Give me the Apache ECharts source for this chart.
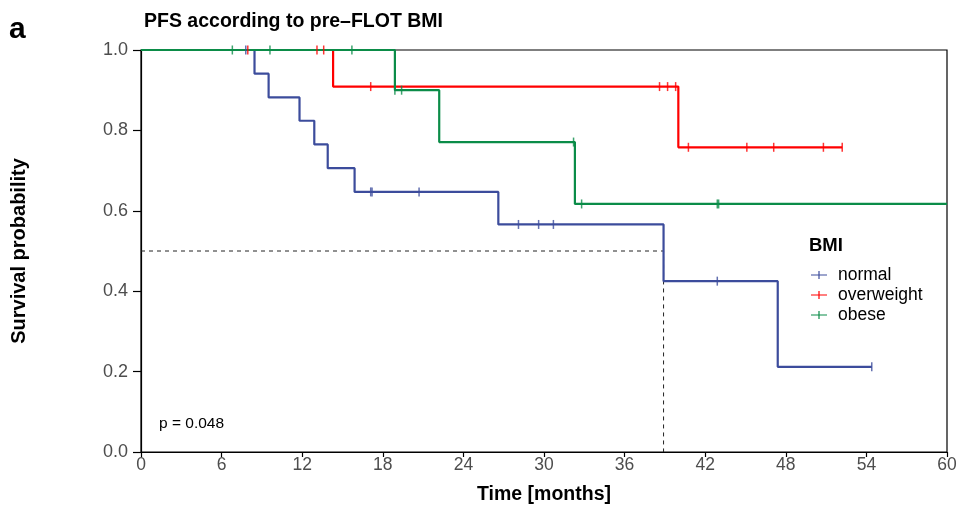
<!DOCTYPE html>
<html lang="en">
<head>
    <meta charset="UTF-8">
    <title>PFS according to pre-FLOT BMI</title>
    <script src="https://cdn.jsdelivr.net/npm/echarts@6/dist/echarts.min.js"></script>
    <style>
        html, body { margin: 0; padding: 0; background: #fff; }
        #main { width: 965px; height: 505px; }
    </style>
</head>
<body>
<div id="main"></div>
<script type="text/javascript">
    // Kaplan-Meier steps (time in months, survival)
    var normalTime = [0, 8.45, 9.5, 11.8, 12.9, 13.9, 15.9, 26.6, 38.9, 47.4, 54.4];
    var normalSurv = [1, 0.941, 0.882, 0.824, 0.765, 0.706, 0.647, 0.566, 0.425, 0.212, 0.212];
    var normalCensT = [7.8, 17.1, 17.2, 20.7, 28.1, 29.6, 30.7, 42.9, 54.4];
    var normalCensS = [1, 0.647, 0.647, 0.647, 0.566, 0.566, 0.566, 0.425, 0.212];

    var overTime = [0, 14.3, 40.0, 52.2];
    var overSurv = [1, 0.909, 0.758, 0.758];
    var overCensT = [7.95, 13.1, 13.6, 17.1, 38.6, 39.2, 39.8, 40.75, 45.1, 47.1, 50.8, 52.2];
    var overCensS = [1, 1, 1, 0.909, 0.909, 0.909, 0.909, 0.758, 0.758, 0.758, 0.758, 0.758];

    var obeseTime = [0, 18.9, 22.2, 32.3, 60];
    var obeseSurv = [1, 0.900, 0.771, 0.617, 0.617];
    var obeseCensT = [6.8, 9.6, 15.7, 18.9, 19.4, 32.2, 32.8, 42.9, 43.0];
    var obeseCensS = [1, 1, 1, 0.900, 0.900, 0.771, 0.617, 0.617, 0.617];

    var medianTime = 38.9;
    var xTicks = [0, 6, 12, 18, 24, 30, 36, 42, 48, 54, 60];

    var groups = ['normal', 'overweight', 'obese'];
    var colors = ['#3C4C9C', '#FF0000', '#0B8C48'];

    function pairs(xs, ys) {
        var out = [];
        for (var i = 0; i < xs.length; i++) {
            out.push([xs[i], ys[i]]);
        }
        return out;
    }

    // legend icon: a short line with a censor tick in the middle
    var plus = 'path://M0,3.4 L16,3.4 L16,4.6 L0,4.6 Z M7.4,0 L8.6,0 L8.6,8 L7.4,8 Z';
    var font = 'Liberation Sans, Arial, Helvetica, sans-serif';

    var curves = [
        pairs(normalTime, normalSurv),
        pairs(overTime, overSurv),
        pairs(obeseTime, obeseSurv)
    ];
    var censors = [
        pairs(normalCensT, normalCensS),
        pairs(overCensT, overCensS),
        pairs(obeseCensT, obeseCensS)
    ];

    var series = [];
    // median guide
    series.push({
        name: 'median',
        type: 'line',
        data: [[0, 0.5], [medianTime, 0.5], [medianTime, 0]],
        symbol: 'none',
        silent: true,
        lineStyle: { color: '#222', width: 1, type: [4, 4] },
        z: 1
    });
    for (var g = 0; g < groups.length; g++) {
        series.push({
            name: groups[g],
            type: 'line',
            step: 'end',
            data: curves[g],
            symbol: 'none',
            lineStyle: { color: colors[g], width: 2.2 },
            itemStyle: { color: colors[g] },
            z: 3
        });
        series.push({
            name: groups[g] + ' censored',
            type: 'scatter',
            data: censors[g],
            symbol: 'rect',
            symbolSize: [1.5, 9],
            itemStyle: { color: colors[g] },
            z: 4
        });
    }

    var myChart = echarts.init(document.getElementById('main'));

    var option = {
        animation: false,
        backgroundColor: '#fff',
        title: {
            text: 'PFS according to pre\u2013FLOT BMI',
            left: 139,
            top: 7,
            textStyle: { fontFamily: font, fontSize: 19.5, fontWeight: 'bold', color: '#000' }
        },
        grid: {
            left: 141, right: 18, top: 50, bottom: 53,
            outerBoundsMode: 'none',
            containLabel: false,
            show: true, borderColor: '#000', borderWidth: 1.2, backgroundColor: '#fff'
        },
        legend: {
            data: groups.map(function (n) { return { name: n, icon: plus }; }),
            orient: 'vertical',
            left: 811,
            top: 265,
            padding: 0,
            itemWidth: 16,
            itemHeight: 8,
            itemGap: 0,
            selectedMode: false,
            textStyle: {
                fontFamily: font, fontSize: 17.5, color: '#000',
                lineHeight: 20, padding: [0, 0, 0, 6]
            }
        },
        xAxis: {
            type: 'value',
            min: 0, max: 60, interval: 6,
            name: 'Time [months]',
            nameLocation: 'middle',
            nameGap: 33,
            nameTextStyle: { fontFamily: font, fontSize: 19.5, fontWeight: 'bold', color: '#000' },
            axisLine: { show: true, onZero: false, lineStyle: { color: '#000', width: 1.2 } },
            axisTick: { show: true, length: 5, lineStyle: { color: '#000', width: 1.2 } },
            axisLabel: {
                fontFamily: font, fontSize: 17.5, color: '#4d4d4d', margin: 4,
                customValues: xTicks
            },
            splitLine: { show: false }
        },
        yAxis: {
            type: 'value',
            min: 0, max: 1, interval: 0.2,
            name: 'Survival probability',
            nameLocation: 'middle',
            nameGap: 112,
            nameRotate: 90,
            nameTextStyle: { fontFamily: font, fontSize: 20, fontWeight: 'bold', color: '#000' },
            axisLine: { show: true, lineStyle: { color: '#000', width: 1.2 } },
            axisTick: { show: true, length: 8, lineStyle: { color: '#000', width: 1.2 } },
            axisLabel: {
                fontFamily: font, fontSize: 18, color: '#4d4d4d', margin: 13,
                formatter: function (v) { return v.toFixed(1); }
            },
            splitLine: { show: false }
        },
        graphic: [
            {
                type: 'text', left: 9, top: 15,
                style: { text: 'a', font: 'bold 30px ' + font, fill: '#000' }
            },
            {
                type: 'text', left: 809, top: 236,
                style: { text: 'BMI', font: 'bold 18.5px ' + font, fill: '#000' }
            },
            {
                type: 'text', left: 159, top: 416,
                style: { text: 'p = 0.048', font: '15.5px ' + font, fill: '#000' }
            }
        ],
        series: series
    };

    myChart.setOption(option);
</script>
</body>
</html>
